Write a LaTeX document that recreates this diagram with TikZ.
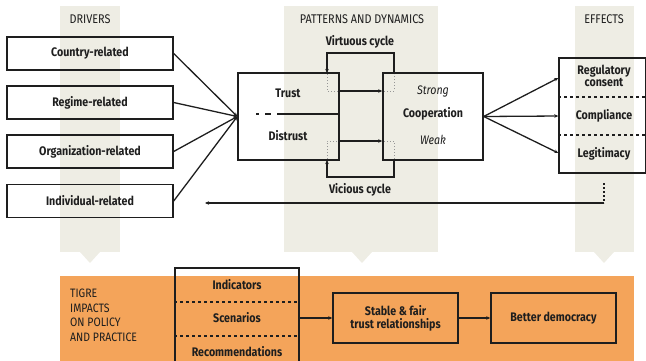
\documentclass[tikz,border=0pt]{standalone}
\usepackage{fontspec}
\setmainfont[FakeStretch=0.86]{Fira Sans}
\usetikzlibrary{arrows.meta,positioning}
\definecolor{beige}{RGB}{238,237,228}
\definecolor{orng}{RGB}{244,164,90}
\definecolor{ink}{RGB}{30,30,30}
\definecolor{dotg}{RGB}{150,150,150}
\tikzset{
  x=1pt,y=-1pt,
  box/.style={draw=ink,line width=1.4pt,inner sep=0pt,align=center,font=\bfseries\fontsize{12.4}{13}\selectfont,text=ink},
  lbl/.style={inner sep=0pt,align=center,font=\bfseries\fontsize{12.4}{13}\selectfont,text=ink},
  ital/.style={inner sep=0pt,font=\itshape\fontsize{12.4}{13}\selectfont,text=ink},
  head/.style={inner sep=0pt,font=\fontsize{12.6}{14}\selectfont,text=ink},
  conn/.style={draw=ink,line width=1.3pt},
  arr/.style={conn,-{Stealth[length=4pt,width=3.5pt]}},
  dotl/.style={draw=dotg,line width=1pt,dotted},
  sep/.style={draw=ink,line width=1.2pt,dash pattern=on 3pt off 3pt}
}
\begin{document}
\begin{tikzpicture}
\useasboundingbox (0,0) rectangle (646,360);
% background columns
\fill[beige] (60,6) rectangle (120,252);
\fill[beige] (80,252) -- (100,252) -- (90,263) -- cycle;
\fill[beige] (284,6) rectangle (438,252);
\fill[beige] (352,252) -- (372,252) -- (362,263) -- cycle;
\fill[beige] (575,6) rectangle (634,252);
\fill[beige] (594,252) -- (614,252) -- (604,263) -- cycle;
\fill[orng] (60,276) rectangle (634,362);
% headings
\node[head] (hdrv) at (90,19) {DRIVERS};
\node[head] (hpat) at (362,19) {PATTERNS AND DYNAMICS};
\node[head] (heff) at (604,19) {EFFECTS};
% drivers
\node[box,minimum width=166pt,minimum height=33pt] (d1) at (90,53.5) {Country-related};
\node[box,minimum width=166pt,minimum height=33pt] (d2) at (90,102.5) {Regime-related};
\node[box,minimum width=166pt,minimum height=33pt] (d3) at (90,151.5) {Organization-related};
\node[box,minimum width=166pt,minimum height=33pt] (d4) at (90,201) {Individual-related};
% trust box
\node[box,minimum width=101pt,minimum height=87pt] (tb) at (288.5,116.5) {};
\node[lbl] (trust) at (288,93) {Trust};
\node[lbl] (distrust) at (288,136) {Distrust};
\coordinate (mlA) at (256,114);
\draw[conn,dash pattern=on 3pt off 6pt on 6pt off 6pt] (mlA) -- (277,114);
\draw[conn] (277,114) -- (tb.east |- 0,114);
% coop box
\node[box,minimum width=100pt,minimum height=87pt] (cb) at (433,116.5) {};
\node[ital] (strong) at (433,91) {Strong};
\node[lbl] (coop) at (433,114) {Cooperation};
\node[ital] (weak) at (433,140) {Weak};
% cycles
\coordinate (vt1) at (394,73);
\coordinate (vt2) at (327,73);
\draw[arr] (vt1) -- (394,53) -- (327,53) -- (vt2);
\node[lbl] (virt) at (360,42) {Virtuous cycle};
\coordinate (vc1) at (394,160);
\coordinate (vc2) at (327,160);
\draw[arr] (vc1) -- (394,177) -- (327,177) -- (vc2);
\node[lbl] (vic) at (360,190) {Vicious cycle};
% dotted guides and arrows
\draw[dotl] (327,74) -- (327,91) -- (338,91);
\draw[dotl] (327,159) -- (327,141) -- (338,141);
\draw[dotl] (384,91) -- (394,91) -- (394,74);
\draw[dotl] (384,141) -- (394,141) -- (394,159);
\coordinate (ta) at (tb.east |- 0,91);
\coordinate (ca) at (cb.west |- 0,91);
\coordinate (tb2) at (tb.east |- 0,141);
\coordinate (cb2) at (cb.west |- 0,141);
\draw[arr] (ta) -- (ca);
\draw[arr] (tb2) -- (cb2);
% driver connectors
\foreach \d in {d1,d2,d3,d4} \draw[arr] (\d.east) -- (tb.west);
% effects
\node[box,minimum width=87pt,minimum height=115pt] (eb) at (602.5,115.5) {};
\draw[sep] (eb.west |- 0,97) -- (eb.east |- 0,97);
\draw[sep] (eb.west |- 0,135) -- (eb.east |- 0,135);
\node[lbl,font=\bfseries\fontsize{12.4}{12.5}\selectfont] (reg) at (604,76) {Regulatory\\consent};
\node[lbl] (comp) at (604,116) {Compliance};
\node[lbl] (legit) at (604,154) {Legitimacy};
\draw[arr] (cb.east) -- (eb.west |- 0,78);
\draw[arr] (cb.east) -- (eb.west |- 0,116);
\draw[arr] (cb.east) -- (eb.west |- 0,153);
% feedback line
\coordinate (fb0) at (604,183);
\coordinate (fb1) at (604,203);
\coordinate (fb2) at (205,203);
\draw[conn,dash pattern=on 2pt off 2pt,line width=1.2pt] (fb0) -- (fb1);
\draw[arr] (fb1) -- (fb2);
% bottom band
\node[inner sep=0pt,anchor=north west,align=left,font=\fontsize{12.2}{14.5}\selectfont,text=ink] (tigre) at (70,289) {TIGRE\\IMPACTS\\ON POLICY\\AND PRACTICE};
\node[box,minimum width=124pt,minimum height=104pt] (stack) at (237,320) {};
\draw[sep] (stack.west |- 0,302) -- (stack.east |- 0,302);
\draw[sep] (stack.west |- 0,336) -- (stack.east |- 0,336);
\node[lbl] (ind) at (237,285) {Indicators};
\node[lbl] (scen) at (237,318) {Scenarios};
\node[lbl] (rec) at (237,352) {Recommendations};
\node[box,minimum width=125pt,minimum height=50pt,font=\bfseries\fontsize{12.4}{13}\selectfont] (stable) at (395.5,318) {Stable \& fair\\trust relationships};
\node[box,minimum width=125pt,minimum height=50pt] (better) at (553.5,318) {Better democracy};
\draw[arr] (stack.east |- 0,318) -- (stable.west);
\draw[arr] (stable.east) -- (better.west);
\end{tikzpicture}
\end{document}
